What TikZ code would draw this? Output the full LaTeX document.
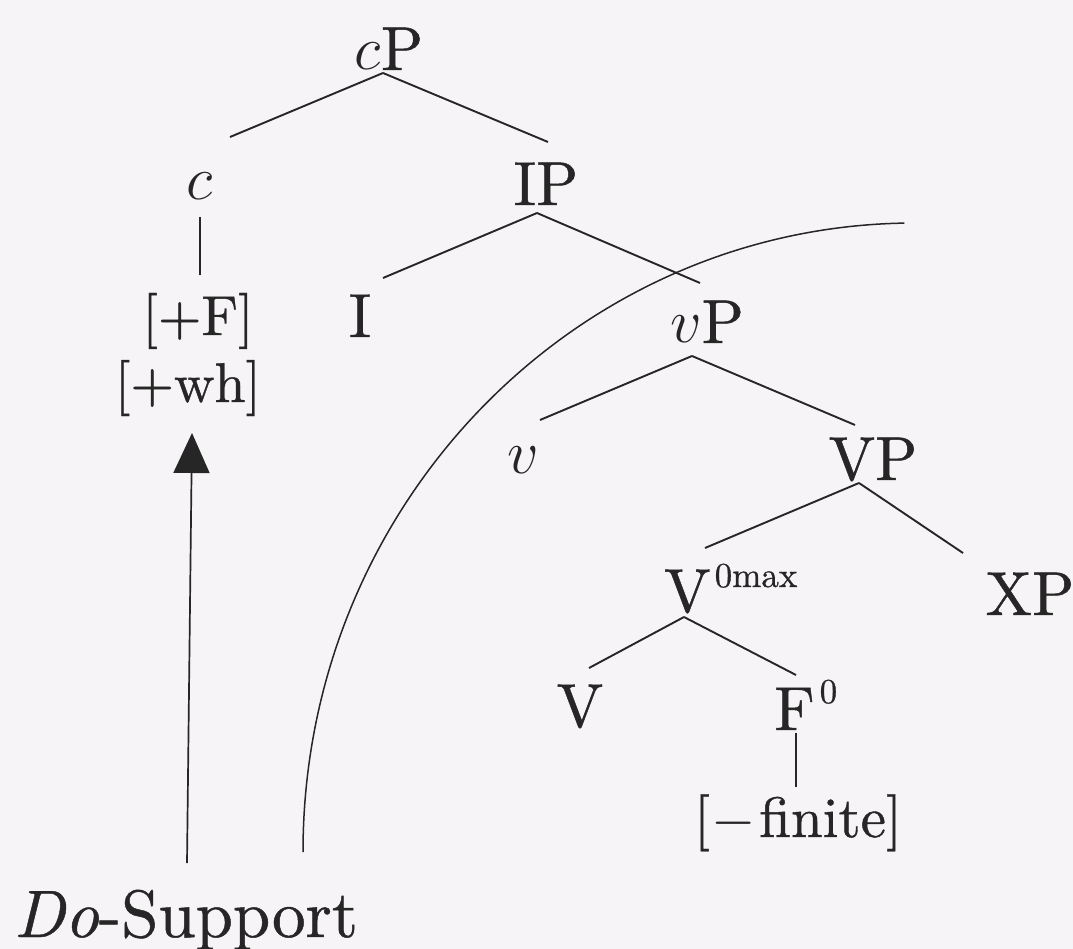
\RequirePackage{fix-cm}
\documentclass[tikz,border=0pt]{standalone}
\usepackage{fontspec}
\setmainfont{lmroman10-regular.otf}[ItalicFont=lmroman10-italic.otf, FakeBold=0.7]
\usetikzlibrary{arrows.meta}
\definecolor{ink}{HTML}{262626}
\definecolor{paper}{HTML}{F6F4F6}
\newcommand\supsz{\fontsize{35}{35}\selectfont}
\begin{document}
\begin{tikzpicture}[x=1pt,y=-1pt,
  lab/.style={inner sep=0pt, anchor=base, text=ink, font=\fontsize{62}{62}\selectfont},
  labw/.style={lab, anchor=base west},
  feat/.style={inner sep=0pt, anchor=base, text=ink, font=\fontsize{56}{56}\selectfont},
  branch/.style={draw=ink, line width=1.9pt},
  arr/.style={draw=ink, line width=1.7pt, -{Triangle[length=40pt,width=36pt]}},
  scopeline/.style={draw=ink, line width=1.5pt}]
\useasboundingbox (0,0) rectangle (1073,949);
\fill[paper] (0,0) rectangle (1073,949);

% tree nodes
\node[lab] (cP) at (389,70) {$c$P};
\node[lab] (c) at (200,200) {$c$};
\node[lab] (IP) at (546,205) {IP};
\node[feat] (F) at (198,335) {[+F]};
\node[feat] (wh) at (188,402) {[+wh]};
\node[lab] (I) at (360,337) {I};
\node[lab] (vP) at (707,343) {$v$P};
\node[lab] (v) at (523,473) {$v$};
\node[lab] (VP) at (873,480) {VP};
\node[labw] (V0) at (664,612) {V\kern4pt\raisebox{25pt}{\supsz 0max}};
\node[lab] (XP) at (1030,615) {XP};
\node[lab] (V) at (580,727) {V};
\node[labw] (F0) at (774,730) {F\kern5pt\raisebox{27pt}{\supsz 0}};
\node[feat, font=\fontsize{57}{57}\selectfont] (fin) at (798,837) {[\kern2pt$-$\kern3pt finite]};
\node[lab, font=\fontsize{67}{67}\selectfont] (DoS) at (186,937) {\textit{Do}-Support};

% branches
\draw[branch] ([shift={(-6,3)}]cP.base) -- ([shift={(30,-63)}]c.base);
\draw[branch] ([shift={(-6,3)}]cP.base) -- ([shift={(2,-63)}]IP.base);
\draw[branch] ([shift={(0,17)}]c.base) -- ([shift={(2,-60)}]F.base);
\draw[branch] ([shift={(-9,8)}]IP.base) -- ([shift={(23,-59)}]I.base);
\draw[branch] ([shift={(-9,8)}]IP.base) -- ([shift={(-7,-60)}]vP.base);
\draw[branch] ([shift={(-15,13)}]vP.base) -- ([shift={(17,-53)}]v.base);
\draw[branch] ([shift={(-15,13)}]vP.base) -- ([shift={(-18,-55)}]VP.base);
\draw[branch] ([shift={(-14,3)}]VP.base) -- ([shift={(41,-64)}]V0.base west);
\draw[branch] ([shift={(-14,3)}]VP.base) -- ([shift={(-67,-62)}]XP.base);
\draw[branch] ([shift={(20,5)}]V0.base west) -- ([shift={(9,-59)}]V.base);
\draw[branch] ([shift={(20,5)}]V0.base west) -- ([shift={(22,-55)}]F0.base west);
\draw[branch] ([shift={(22,3)}]F0.base west) -- ([shift={(-2,-50)}]fin.base);

% movement arrow
\draw[arr] ([shift={(1,-74)}]DoS.base) -- ([shift={(4,31)}]wh.base);

% boundary curve
\coordinate (arcstart) at (303,852);
\draw[scopeline] (arcstart) arc[start angle=180, end angle=269, x radius=612, y radius=629];
\end{tikzpicture}
\end{document}
